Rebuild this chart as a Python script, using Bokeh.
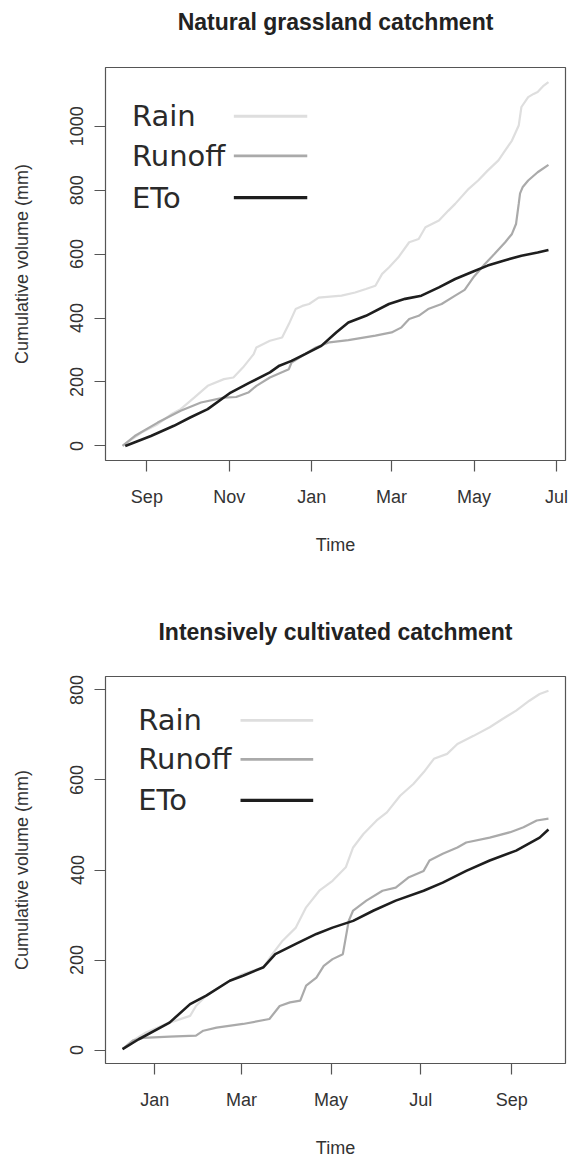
import numpy as np
import pandas as pd
from bokeh.plotting import figure
from bokeh.layouts import column
from bokeh.models import Range1d, FixedTicker, DatetimeTickFormatter, Label, LinearAxis
from bokeh.embed import file_html
from bokeh.resources import INLINE

# ---------------- Natural grassland catchment ----------------
g_rain_dates = ["2012-08-14", "2012-08-28", "2012-09-09", "2012-09-19", "2012-09-26", "2012-10-06",
                "2012-10-16", "2012-10-28", "2012-11-04", "2012-11-11", "2012-11-19", "2012-11-21",
                "2012-12-01", "2012-12-10", "2012-12-15", "2012-12-20", "2012-12-25", "2012-12-30",
                "2013-01-06", "2013-01-23", "2013-02-02", "2013-02-10", "2013-02-17", "2013-02-22",
                "2013-02-27", "2013-03-06", "2013-03-14", "2013-03-21", "2013-03-26", "2013-04-05",
                "2013-04-12", "2013-04-17", "2013-04-27", "2013-05-04", "2013-05-11", "2013-05-19",
                "2013-05-24", "2013-05-29", "2013-06-03", "2013-06-05", "2013-06-10", "2013-06-14",
                "2013-06-17", "2013-06-21", "2013-06-25"]
g_rain = [0, 42, 68, 99, 115, 151, 188, 209, 214, 245, 287, 308, 329, 339, 381, 428, 438, 444,
          464, 470, 480, 491, 501, 538, 558, 590, 637, 647, 684, 705, 736, 757, 804, 830, 861, 893,
          924, 955, 1002, 1060, 1091, 1101, 1107, 1125, 1138]

g_runoff_dates = ["2012-08-14", "2012-08-23", "2012-09-09", "2012-09-26", "2012-10-11", "2012-10-28",
                  "2012-11-06", "2012-11-15", "2012-11-21", "2012-12-01", "2012-12-15", "2012-12-17",
                  "2012-12-25", "2013-01-04", "2013-01-14", "2013-01-28", "2013-02-17", "2013-03-01",
                  "2013-03-08", "2013-03-14", "2013-03-21", "2013-03-28", "2013-04-07", "2013-04-17",
                  "2013-04-24", "2013-05-01", "2013-05-09", "2013-05-16", "2013-05-24", "2013-05-29",
                  "2013-06-01", "2013-06-03", "2013-06-04", "2013-06-06", "2013-06-10", "2013-06-17",
                  "2013-06-25"]
g_runoff = [0, 31, 73, 110, 136, 151, 153, 167, 188, 214, 240, 261, 282, 308, 324, 331, 345, 355,
            370, 397, 407, 428, 444, 470, 488, 530, 569, 600, 637, 663, 694, 757, 790, 810, 830, 856,
            879]

g_eto_dates = ["2012-08-16", "2012-09-04", "2012-09-21", "2012-10-03", "2012-10-16", "2012-11-02",
               "2012-11-16", "2012-12-01", "2012-12-08", "2012-12-17", "2012-12-27", "2013-01-08",
               "2013-01-19", "2013-01-28", "2013-02-10", "2013-02-27", "2013-03-11", "2013-03-23",
               "2013-04-05", "2013-04-17", "2013-04-29", "2013-05-11", "2013-05-24", "2013-06-05",
               "2013-06-17", "2013-06-25"]
g_eto = [0, 31, 63, 89, 115, 167, 198, 230, 251, 266, 287, 313, 355, 386, 407, 444, 460, 470, 496,
         522, 543, 564, 581, 595, 605, 613]

g_xtick_dates = ["2012-09-01", "2012-11-01", "2013-01-01", "2013-03-01", "2013-05-01", "2013-07-01"]
g_xtick_labels = ["Sep", "Nov", "Jan", "Mar", "May", "Jul"]
g_yticks = [0, 200, 400, 600, 800, 1000]

# ---------------- Intensively cultivated catchment ----------------
c_rain_dates = ["2013-12-10", "2013-12-17", "2013-12-26", "2014-01-11", "2014-01-25", "2014-01-29",
                "2014-02-05", "2014-02-21", "2014-03-02", "2014-03-16", "2014-03-22", "2014-03-29",
                "2014-04-07", "2014-04-14", "2014-04-23", "2014-05-02", "2014-05-11", "2014-05-16",
                "2014-05-23", "2014-06-01", "2014-06-08", "2014-06-17", "2014-06-26", "2014-07-03",
                "2014-07-10", "2014-07-19", "2014-07-26", "2014-08-06", "2014-08-17", "2014-08-26",
                "2014-09-04", "2014-09-13", "2014-09-20", "2014-09-26"]
c_rain = [2, 21, 39, 61, 76, 98, 121, 154, 169, 184, 213, 243, 272, 317, 354, 376, 406, 450, 480,
          510, 528, 565, 591, 617, 647, 658, 680, 698, 717, 736, 754, 776, 791, 798]

c_runoff_dates = ["2013-12-10", "2013-12-17", "2013-12-24", "2014-01-11", "2014-01-29", "2014-02-03",
                  "2014-02-12", "2014-03-02", "2014-03-20", "2014-03-27", "2014-04-03", "2014-04-10",
                  "2014-04-14", "2014-04-21", "2014-04-26", "2014-05-02", "2014-05-09", "2014-05-13",
                  "2014-05-16", "2014-05-25", "2014-06-05", "2014-06-14", "2014-06-23", "2014-07-03",
                  "2014-07-07", "2014-07-16", "2014-07-26", "2014-08-01", "2014-08-17", "2014-08-31",
                  "2014-09-09", "2014-09-18", "2014-09-26"]
c_runoff = [2, 21, 27, 30, 32, 43, 50, 58, 69, 98, 106, 110, 143, 161, 187, 202, 213, 287, 310, 332,
            354, 361, 384, 398, 421, 436, 450, 461, 472, 484, 495, 510, 514]

c_eto_dates = ["2013-12-10", "2013-12-21", "2014-01-11", "2014-01-25", "2014-02-05", "2014-02-21",
               "2014-03-02", "2014-03-16", "2014-03-24", "2014-04-07", "2014-04-21", "2014-05-02",
               "2014-05-16", "2014-05-30", "2014-06-14", "2014-07-03", "2014-07-16", "2014-08-01",
               "2014-08-17", "2014-09-04", "2014-09-20", "2014-09-26"]
c_eto = [2, 24, 61, 102, 121, 154, 165, 184, 213, 236, 258, 272, 287, 310, 332, 354, 372, 398, 421,
         443, 472, 490]

c_xtick_dates = ["2014-01-01", "2014-03-01", "2014-05-01", "2014-07-01", "2014-09-01"]
c_xtick_labels = ["Jan", "Mar", "May", "Jul", "Sep"]
c_yticks = [0, 200, 400, 600, 800]

series_names = ["Rain", "Runoff", "ETo"]
series_colors = ["#dedede", "#aaaaaa", "#1e1e1e"]
series_widths = [2.2, 2.2, 2.6]

AXIS_FONT = "Liberation Sans"
TEXT_COL = "#333333"
FIG_W = 573


def to_ms(dates):
    return (pd.DatetimeIndex(pd.to_datetime(dates)).asi8 // 10**6).astype(float)


def make_panel(title, series, xtick_dates, xtick_labels, yticks, height, borders,
               title_standoff, legend_pos):
    xs = [to_ms(d) for d, _ in series]
    ys = [np.asarray(v, dtype=float) for _, v in series]
    xmin = min(a.min() for a in xs)
    xmax = max(a.max() for a in xs)
    ymin = min(a.min() for a in ys)
    ymax = max(a.max() for a in ys)
    dx = (xmax - xmin) * 0.04
    dy = (ymax - ymin) * 0.04
    x0, x1 = xmin - dx, xmax + dx
    y0, y1 = ymin - dy, ymax + dy
    left, right, top, bottom = borders
    p = figure(width=FIG_W, height=height, x_axis_type="datetime",
               x_range=Range1d(x0, x1), y_range=Range1d(y0, y1),
               output_backend="svg", toolbar_location=None,
               min_border_left=left, min_border_right=right,
               min_border_top=top, min_border_bottom=bottom)
    p.background_fill_color = "white"
    p.border_fill_color = "white"
    p.outline_line_color = "#555555"
    p.outline_line_width = 1.2
    p.grid.visible = False

    xa = p.below[0]
    ya = p.left[0]

    # title: the label of a bare axis placed above the frame (centred over it)
    tax = LinearAxis(ticker=FixedTicker(ticks=[]), axis_label=title,
                     axis_line_color=None, major_tick_line_color=None,
                     minor_tick_line_color=None,
                     axis_label_standoff=title_standoff,
                     axis_label_text_font=AXIS_FONT, axis_label_text_font_size="23px",
                     axis_label_text_font_style="bold", axis_label_text_color="#222222")
    p.add_layout(tax, "above")

    tick_ms = [int(t) for t in to_ms(xtick_dates)]
    xa.ticker = FixedTicker(ticks=tick_ms)
    xa.formatter = DatetimeTickFormatter(months="%b", days="%b", years="%b")
    xa.major_label_overrides = {t: l for t, l in zip(tick_ms, xtick_labels)}
    ya.ticker = FixedTicker(ticks=yticks)
    ya.major_label_orientation = "vertical"

    for ax in (xa, ya):
        ax.axis_line_color = None
        ax.major_tick_line_color = "#555555"
        ax.major_tick_line_width = 1.2
        ax.major_tick_in = 0
        ax.major_tick_out = 11
        ax.minor_tick_line_color = None
        ax.major_label_text_font = AXIS_FONT
        ax.major_label_text_font_size = "18px"
        ax.major_label_text_color = TEXT_COL
        ax.axis_label_text_font = AXIS_FONT
        ax.axis_label_text_font_size = "18px"
        ax.axis_label_text_font_style = "normal"
        ax.axis_label_text_color = TEXT_COL
    xa.axis_label = "Time"
    ya.axis_label = "Cumulative volume (mm)"
    xa.major_label_standoff = 15
    xa.axis_label_standoff = 25
    ya.major_label_standoff = 11
    ya.axis_label_standoff = 36

    for x, y, c, w in zip(xs, ys, series_colors, series_widths):
        p.line(x, y, line_color=c, line_width=w)

    # legend: text on the left, line sample on the right
    tx, lx0, lx1, rows = legend_pos
    for name, c, w, fr in zip(series_names, series_colors, series_widths, rows):
        yy = y1 - fr * (y1 - y0)
        p.add_layout(Label(x=x0 + tx * (x1 - x0), y=yy, text=name,
                           text_font="DejaVu Sans", text_font_size="29px",
                           text_color="#2a2a2a", text_baseline="middle", text_align="left"))
        p.segment(x0=[x0 + lx0 * (x1 - x0)], y0=[yy], x1=[x0 + lx1 * (x1 - x0)], y1=[yy],
                  line_color=c, line_width=w + 0.6)
    return p


p1 = make_panel("Natural grassland catchment",
                [(g_rain_dates, g_rain), (g_runoff_dates, g_runoff), (g_eto_dates, g_eto)],
                g_xtick_dates, g_xtick_labels, g_yticks, height=580,
                borders=(103, 5, 67, 120), title_standoff=33,
                legend_pos=(0.0575, 0.279, 0.4386, [0.124, 0.225, 0.331]))

p2 = make_panel("Intensively cultivated catchment",
                [(c_rain_dates, c_rain), (c_runoff_dates, c_runoff), (c_eto_dates, c_eto)],
                c_xtick_dates, c_xtick_labels, c_yticks, height=580,
                borders=(105, 8, 96, 96), title_standoff=32,
                legend_pos=(0.0711, 0.2935, 0.4515, [0.1135, 0.214, 0.32]))

layout = column(p1, p2, spacing=0)
open("out.html", "w").write(file_html(layout, INLINE))
